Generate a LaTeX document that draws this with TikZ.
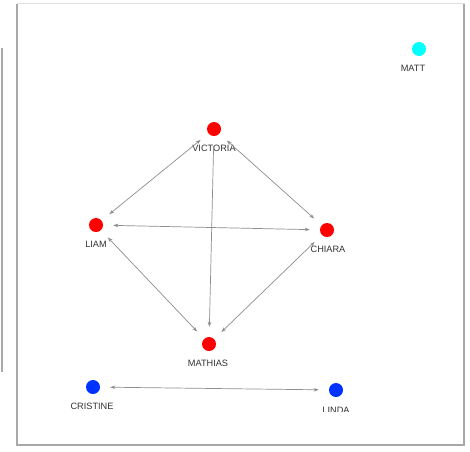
\documentclass[tikz,border=0pt]{standalone}
\usepackage{fontspec}
\setmainfont{Liberation Sans}
\usetikzlibrary{arrows.meta}
\definecolor{edgegray}{HTML}{8E8E8E}
\definecolor{labgray}{HTML}{333333}
\definecolor{winshade}{HTML}{A8A8A8}
\definecolor{nodeblue}{HTML}{0033FF}
\definecolor{nodecyan}{HTML}{00FFFF}
\definecolor{nodered}{HTML}{FF0000}
\tikzset{
  per/.style={circle, fill=#1, minimum size=14pt, inner sep=0pt},
  plab/.style={font=\fontsize{9.2}{10}\selectfont, text=labgray, inner sep=0pt},
  lnk/.style={<->, >={Stealth[length=5pt, width=3.5pt]}, edgegray, line width=0.7pt, shorten >=10pt, shorten <=10pt},
  shade/.style={winshade, line width=2pt}
}
\begin{document}
\begin{tikzpicture}[x=1pt, y=-1pt]
	\useasboundingbox (0,0) rectangle (470,451);
	% window frame
	\draw[shade] (1.5,48) -- (1.5,372);
	\draw[fill=white, draw=black!12, line width=0.6pt] (17,3) rectangle (464,445);
	\draw[shade] (17,4) -- (17,445) -- (464,445) -- (464,4);
	% people
	\node[per=nodecyan] (matt) at (419,49) {};
	\node[per=nodered] (vic) at (214,129) {};
	\node[per=nodered] (liam) at (96,225) {};
	\node[per=nodered] (chia) at (327,230) {};
	\node[per=nodered] (math) at (209,344) {};
	\node[per=nodeblue] (cris) at (93,387) {};
	\node[per=nodeblue] (linda) at (336,390) {};
	% labels
	\node[plab] (mattl) at (413,68) {MATT};
	\node[plab] (vicl) at (214,148) {VICTORIA};
	\node[plab] (liaml) at (96,244) {LIAM};
	\node[plab] (chial) at (328,249) {CHIARA};
	\node[plab] (mathl) at (208,363) {MATHIAS};
	\node[plab] (crisl) at (92,406) {CRISTINE};
	\begin{scope}
		\clip (300,400) rectangle (380,411);
		\node[plab] (lindal) at (336,410) {LINDA};
	\end{scope}
	% links
	\draw[lnk] (vic) -- (liam);
	\draw[lnk] (vic) -- (chia);
	\draw[lnk, ->] (vic) -- (math);
	\draw[lnk] (liam) -- (chia);
	\draw[lnk] (liam) -- (math);
	\draw[lnk] (chia) -- (math);
	\draw[lnk] (cris) -- (linda);
\end{tikzpicture}
\end{document}
